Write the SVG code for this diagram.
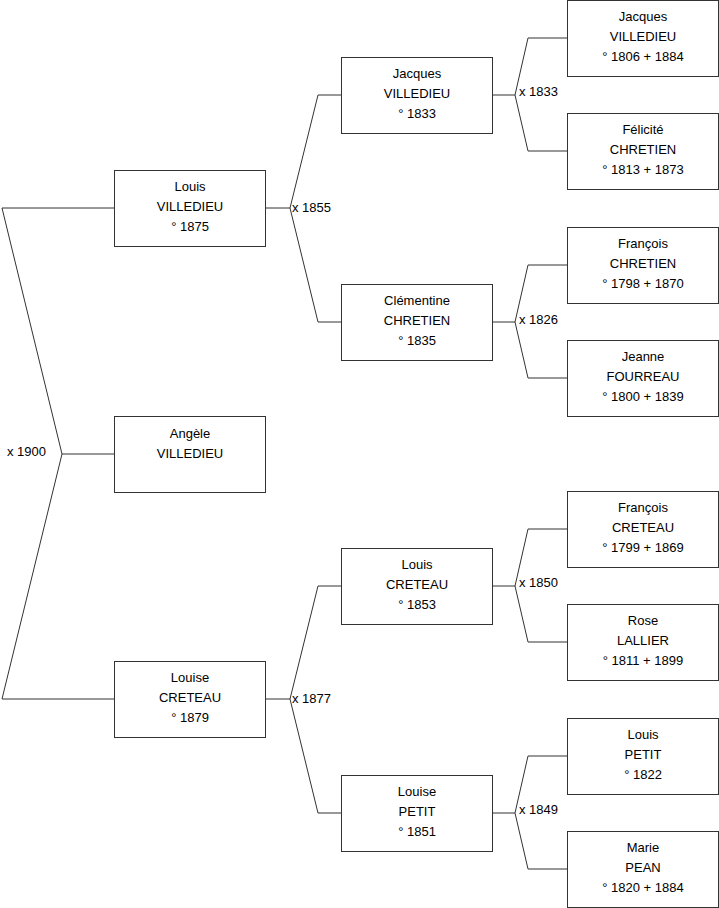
<svg xmlns="http://www.w3.org/2000/svg" width="719" height="908" viewBox="0 0 719 908">
<style>
.box{fill:#fff;stroke:#333;stroke-width:1}
.ln{fill:none;stroke:#333;stroke-width:1}
text{font-family:"Liberation Sans",Arial,sans-serif;font-size:13px;fill:#000}
.c{text-anchor:middle}
</style>
<rect width="719" height="908" fill="#fff"/>
<g id="connectors">
<polyline class="ln" points="114,208 2,208 62,454 2,699 114,699"/>
<line class="ln" x1="62" y1="454" x2="114" y2="454"/>
<polyline class="ln" points="341,95 318,95 290,208 318,322 341,322"/>
<line class="ln" x1="265" y1="208" x2="290" y2="208"/>
<polyline class="ln" points="341,586 318,586 290,699 318,813 341,813"/>
<line class="ln" x1="265" y1="699" x2="290" y2="699"/>
<polyline class="ln" points="567,38 528,38 515,95 528,151 567,151"/>
<line class="ln" x1="492" y1="95" x2="515" y2="95"/>
<polyline class="ln" points="567,265 528,265 515,322 528,378 567,378"/>
<line class="ln" x1="492" y1="322" x2="515" y2="322"/>
<polyline class="ln" points="567,529 528,529 515,586 528,642 567,642"/>
<line class="ln" x1="492" y1="586" x2="515" y2="586"/>
<polyline class="ln" points="567,756 528,756 515,813 528,869 567,869"/>
<line class="ln" x1="492" y1="813" x2="515" y2="813"/>
<text x="7" y="456">x 1900</text>
<text x="292" y="212">x 1855</text>
<text x="292" y="703">x 1877</text>
<text x="519" y="96">x 1833</text>
<text x="519" y="324">x 1826</text>
<text x="519" y="587">x 1850</text>
<text x="519" y="814">x 1849</text>
</g>
<g id="louis-villedieu"><rect class="box" x="114.5" y="170.5" width="151" height="76"/><text class="c" x="190" y="191">Louis</text><text class="c" x="190" y="211">VILLEDIEU</text><text class="c" x="190" y="231">° 1875</text></g>
<g id="angele-villedieu"><rect class="box" x="114.5" y="416.5" width="151" height="76"/><text class="c" x="190" y="438">Angèle</text><text class="c" x="190" y="458">VILLEDIEU</text></g>
<g id="louise-creteau"><rect class="box" x="114.5" y="661.5" width="151" height="76"/><text class="c" x="190" y="682">Louise</text><text class="c" x="190" y="702">CRETEAU</text><text class="c" x="190" y="722">° 1879</text></g>
<g id="jacques-villedieu-1833"><rect class="box" x="341.5" y="57.5" width="151" height="76"/><text class="c" x="417" y="78">Jacques</text><text class="c" x="417" y="98">VILLEDIEU</text><text class="c" x="417" y="118">° 1833</text></g>
<g id="clementine-chretien"><rect class="box" x="341.5" y="284.5" width="151" height="76"/><text class="c" x="417" y="305">Clémentine</text><text class="c" x="417" y="325">CHRETIEN</text><text class="c" x="417" y="345">° 1835</text></g>
<g id="louis-creteau"><rect class="box" x="341.5" y="548.5" width="151" height="76"/><text class="c" x="417" y="569">Louis</text><text class="c" x="417" y="589">CRETEAU</text><text class="c" x="417" y="609">° 1853</text></g>
<g id="louise-petit"><rect class="box" x="341.5" y="775.5" width="151" height="76"/><text class="c" x="417" y="796">Louise</text><text class="c" x="417" y="816">PETIT</text><text class="c" x="417" y="836">° 1851</text></g>
<g id="jacques-villedieu-1806"><rect class="box" x="567.5" y="0.5" width="151" height="76"/><text class="c" x="643" y="21">Jacques</text><text class="c" x="643" y="41">VILLEDIEU</text><text class="c" x="643" y="61">° 1806 + 1884</text></g>
<g id="felicite-chretien"><rect class="box" x="567.5" y="113.5" width="151" height="76"/><text class="c" x="643" y="134">Félicité</text><text class="c" x="643" y="154">CHRETIEN</text><text class="c" x="643" y="174">° 1813 + 1873</text></g>
<g id="francois-chretien"><rect class="box" x="567.5" y="227.5" width="151" height="76"/><text class="c" x="643" y="248">François</text><text class="c" x="643" y="268">CHRETIEN</text><text class="c" x="643" y="288">° 1798 + 1870</text></g>
<g id="jeanne-fourreau"><rect class="box" x="567.5" y="340.5" width="151" height="76"/><text class="c" x="643" y="361">Jeanne</text><text class="c" x="643" y="381">FOURREAU</text><text class="c" x="643" y="401">° 1800 + 1839</text></g>
<g id="francois-creteau"><rect class="box" x="567.5" y="491.5" width="151" height="76"/><text class="c" x="643" y="512">François</text><text class="c" x="643" y="532">CRETEAU</text><text class="c" x="643" y="552">° 1799 + 1869</text></g>
<g id="rose-lallier"><rect class="box" x="567.5" y="604.5" width="151" height="76"/><text class="c" x="643" y="625">Rose</text><text class="c" x="643" y="645">LALLIER</text><text class="c" x="643" y="665">° 1811 + 1899</text></g>
<g id="louis-petit"><rect class="box" x="567.5" y="718.5" width="151" height="76"/><text class="c" x="643" y="739">Louis</text><text class="c" x="643" y="759">PETIT</text><text class="c" x="643" y="779">° 1822</text></g>
<g id="marie-pean"><rect class="box" x="567.5" y="831.5" width="151" height="76"/><text class="c" x="643" y="852">Marie</text><text class="c" x="643" y="872">PEAN</text><text class="c" x="643" y="892">° 1820 + 1884</text></g>
</svg>
